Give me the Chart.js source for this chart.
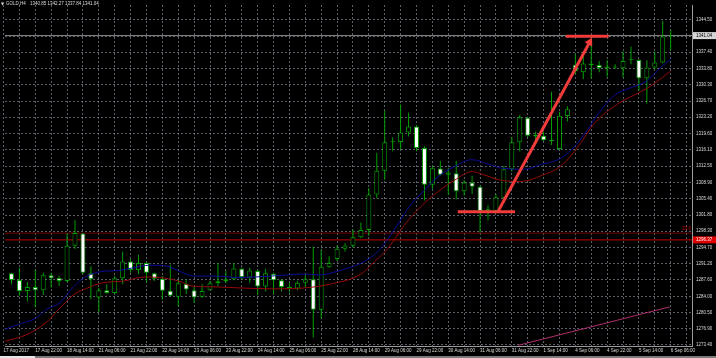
<!DOCTYPE html>
<html lang="en">
<head>
<meta charset="UTF-8">
<title>GOLD,H4</title>
<script src="https://cdn.jsdelivr.net/npm/chart.js"></script>
<style>
    html, body { margin: 0; padding: 0; background: #000; overflow: hidden; }
    #grafico { display: block; }
</style>
</head>
<body>
<canvas id="grafico" width="716" height="358"></canvas>
<script>
const symbol = 'GOLD,H4';

// H4 candles, left to right (index 0 = first full candle on screen)
const opens = [1289.05, 1287.60, 1285.17, 1286.09, 1285.38, 1288.61, 1288.03, 1287.38, 1295.08, 1297.79,
    1289.05, 1283.79, 1285.38, 1284.73, 1287.97, 1291.63, 1289.76, 1291.33, 1289.05, 1287.88,
    1285.23, 1283.94, 1286.74, 1285.38, 1283.94, 1285.38, 1287.32, 1287.32, 1287.75, 1290.08,
    1288.10, 1289.54, 1286.16, 1288.96, 1287.54, 1286.09, 1285.73, 1287.02, 1287.75, 1281.07,
    1290.47, 1292.19, 1294.43, 1295.08, 1296.93, 1298.53, 1306.29, 1311.46, 1317.71, 1317.77,
    1319.87, 1321.16, 1316.48, 1308.44, 1311.96, 1310.60, 1310.94, 1307.00, 1308.94, 1308.01,
    1302.69, 1302.69, 1305.56, 1311.80, 1317.71, 1323.10, 1319.00, 1319.13, 1317.93, 1316.27,
    1323.44, 1334.69, 1333.01, 1334.95, 1334.59, 1333.94, 1334.09, 1333.88, 1335.66, 1335.73,
    1331.72, 1334.09, 1335.17, 1340.85];
const highs = [1289.18, 1290.25, 1287.17, 1289.76, 1289.18, 1289.18, 1288.46, 1297.79, 1300.68, 1297.90,
    1290.62, 1285.88, 1286.67, 1288.46, 1293.79, 1292.19, 1293.14, 1291.48, 1289.18, 1288.46,
    1290.90, 1287.60, 1287.75, 1286.09, 1286.67, 1287.38, 1291.33, 1289.54, 1291.33, 1290.25,
    1290.25, 1289.91, 1290.04, 1289.18, 1287.75, 1287.02, 1287.38, 1288.68, 1294.93, 1294.22,
    1292.78, 1295.15, 1295.64, 1298.66, 1300.17, 1307.71, 1315.40, 1324.61, 1318.79, 1325.97,
    1324.18, 1321.50, 1316.85, 1312.54, 1313.62, 1312.17, 1313.62, 1309.48, 1310.38, 1308.20,
    1303.92, 1306.42, 1312.54, 1318.85, 1323.66, 1323.31, 1320.08, 1320.08, 1328.77, 1324.39,
    1325.60, 1336.96, 1336.59, 1340.90, 1335.51, 1335.66, 1334.80, 1337.54, 1338.62, 1335.88,
    1335.66, 1337.54, 1344.28, 1342.27];
const lows = [1286.67, 1284.15, 1282.92, 1281.63, 1284.30, 1285.94, 1286.31, 1287.17, 1294.35, 1289.00,
    1283.44, 1280.55, 1284.52, 1284.52, 1286.67, 1289.18, 1288.83, 1287.02, 1287.38, 1283.29,
    1284.00, 1281.84, 1284.52, 1282.58, 1283.66, 1285.23, 1286.31, 1286.89, 1287.54, 1287.82,
    1287.02, 1284.37, 1285.08, 1284.52, 1285.02, 1284.87, 1285.38, 1285.94, 1275.03, 1279.13,
    1290.25, 1291.70, 1293.85, 1294.71, 1296.72, 1297.30, 1305.49, 1309.52, 1315.77, 1316.12,
    1319.00, 1315.77, 1305.00, 1307.50, 1310.38, 1306.24, 1305.27, 1306.10, 1306.42, 1297.95,
    1300.68, 1302.47, 1305.34, 1311.30, 1315.77, 1318.85, 1318.27, 1317.93, 1317.13, 1316.12,
    1322.24, 1332.65, 1331.57, 1331.72, 1333.01, 1332.06, 1333.72, 1331.93, 1334.80, 1329.05,
    1326.18, 1333.72, 1335.02, 1337.84];
const closes = [1287.60, 1285.17, 1286.09, 1285.38, 1288.61, 1287.97, 1287.38, 1295.08, 1297.88, 1289.18,
    1287.75, 1285.38, 1284.73, 1287.97, 1291.63, 1289.76, 1291.33, 1289.18, 1287.88, 1285.23,
    1284.15, 1286.89, 1285.51, 1283.79, 1285.17, 1286.89, 1286.89, 1287.75, 1290.12, 1288.25,
    1289.69, 1286.16, 1289.05, 1287.54, 1286.09, 1285.73, 1287.02, 1287.75, 1281.07, 1290.47,
    1291.33, 1294.43, 1295.15, 1296.93, 1298.53, 1306.29, 1311.46, 1317.71, 1317.93, 1319.87,
    1321.16, 1316.48, 1308.44, 1312.02, 1310.60, 1311.10, 1307.00, 1308.94, 1308.01, 1302.69,
    1303.05, 1305.71, 1311.80, 1317.71, 1323.16, 1319.13, 1319.35, 1318.14, 1318.27, 1323.53,
    1324.95, 1333.29, 1334.95, 1334.59, 1333.94, 1334.22, 1334.22, 1335.51, 1335.88, 1331.72,
    1334.09, 1335.17, 1340.85, 1341.04];

// time axis labels, placed at candle index
const timeTickIdx = [-1, 3, 7, 11, 15, 19, 23, 27, 31, 35, 39, 43, 47, 51, 55, 59, 63, 67, 71, 75, 79, 83];
const timeTickLabels = ['17 Aug 2017', '17 Aug 22:00', '18 Aug 14:00', '21 Aug 06:00', '21 Aug 22:00',
    '22 Aug 14:00', '23 Aug 06:00', '23 Aug 22:00', '24 Aug 14:00', '25 Aug 06:00', '25 Aug 22:00',
    '28 Aug 14:00', '29 Aug 06:00', '29 Aug 22:00', '30 Aug 14:00', '31 Aug 06:00', '31 Aug 22:00',
    '1 Sep 14:00', '4 Sep 06:00', '4 Sep 22:00', '5 Sep 14:00', '6 Sep 06:00'];

// price axis (the tick under the bid label has no text)
const priceTicks = [1344.50, 1340.95, 1337.40, 1333.80, 1330.30, 1326.70, 1323.20, 1319.60, 1316.10,
    1312.50, 1308.90, 1305.40, 1301.80, 1298.30, 1294.70, 1291.20, 1287.60, 1284.00, 1280.50,
    1276.90, 1273.40];
const priceTickLabels = ['1344.50', '', '1337.40', '1333.80', '1330.30', '1326.70', '1323.20', '1319.60',
    '1316.10', '1312.50', '1308.90', '1305.40', '1301.80', '1298.30', '1294.70', '1291.20', '1287.60',
    '1284.00', '1280.50', '1276.90', '1273.40'];

// moving averages
const maFastIdx = [-0.8, 0.9, 3, 4.6, 6.1, 7.6, 8.9, 10.1, 11.75, 13.4, 15.1, 17.4, 19.6, 21.1, 23,
    25.9, 28.6, 32.75, 37, 38.6, 41.1, 44, 45.75, 47, 48.6, 50.25, 52, 53.6, 55.75, 58, 60.1, 62.1,
    64.6, 66.75, 68.9, 70.5, 72.1, 73.9, 75.9, 77.6, 80.1, 81.75, 83];
const maFastVal = [1276.82, 1277.90, 1279.20, 1281.35, 1282.64, 1285.66, 1287.82, 1288.89, 1289.54,
    1289.65, 1290.19, 1290.83, 1290.62, 1289.54, 1288.46, 1288.46, 1288.14, 1288.46, 1288.90, 1288.68,
    1289.54, 1291.27, 1293.21, 1295.58, 1299.67, 1303.98, 1307.21, 1310.02, 1312.39, 1313.90, 1312.88,
    1311.96, 1311.81, 1312.88, 1313.96, 1316.12, 1319.35, 1324.03, 1327.97, 1329.41, 1331.20, 1334.09,
    1335.88];
const maSlowIdx = [-0.8, 1.75, 4.25, 6.4, 8, 9.6, 11.4, 14.25, 16.75, 19.25, 21.4, 22.6, 25.5, 28.6,
    32.75, 37, 40.25, 44, 45.75, 47.4, 49.5, 51.5, 53.6, 55.75, 58, 59.25, 61.75, 64.25, 66.75, 69.25,
    71.4, 73.4, 76.4, 79.25, 80.9, 83];
const maSlowVal = [1274.24, 1275.53, 1278.12, 1282.00, 1284.58, 1285.88, 1286.96, 1287.39, 1288.25,
    1288.03, 1287.17, 1286.31, 1286.09, 1285.88, 1285.66, 1285.88, 1286.74, 1288.90, 1291.70, 1294.50,
    1299.67, 1303.55, 1306.78, 1309.37, 1311.31, 1310.73, 1309.37, 1309.16, 1310.45, 1312.60, 1316.91,
    1321.87, 1326.18, 1328.77, 1330.49, 1333.29];

// drawn objects
const bidPrice = 1341.04;
const levelPrice = 1296.37;
const fiboPrice = 1297.84;
const fiboText = '23.6';
const trendIdx = [63.8, 82.9];
const trendVal = [1273.31, 1281.72];
const arrowIdx = [61.3, 72.8];
const arrowVal = [1302.7, 1339.6];
const lowMarkIdx = [56.2, 63.4];
const lowMarkVal = 1302.5;
const highMarkIdx = [69.8, 75.2];
const highMarkVal = 1340.9;

// visible window
const xMin = -0.8125, xMax = 85.6875;
const yMin = 1273.164, yMax = 1347.733;

const verde = '#00a000';
const vermelho = '#f23c3c';
const corGrade = '#59606b';
const corEixo = '#9a9a9a';
const corTexto = '#dcdcdc';

Chart.defaults.font.family = '"Liberation Sans", Arial, sans-serif';

const pts = (xs, ys) => xs.map((x, k) => ({ x: x, y: Array.isArray(ys) ? ys[k] : ys }));
const fullWidth = (price) => [{ x: xMin, y: price }, { x: xMax, y: price }];

const gridIdx = [];
for (let i = -1; i <= 85; i += 2) gridIdx.push(i);

const mtDecor = {
    id: 'mtDecor',
    beforeDraw(chart) {
        const c = chart.ctx;
        c.save();
        c.fillStyle = '#000';
        c.fillRect(0, 0, chart.width, chart.height);
        c.restore();
    },
    afterDraw(chart) {
        const c = chart.ctx;
        const ys = chart.scales.y;
        const area = chart.chartArea;
        const n = opens.length - 1;
        c.save();
        c.textBaseline = 'middle';

        // header
        c.fillStyle = corTexto;
        c.font = '4px "DejaVu Sans", sans-serif';
        c.fillText('\u25BC', 1, 3.5);
        c.font = '4.5px "Liberation Sans", Arial, sans-serif';
        c.fillText(symbol, 6, 3.5);
        c.fillText([opens[n], highs[n], lows[n], closes[n]].map(v => v.toFixed(2)).join(' '), 30, 3.5);

        // fibo level text
        c.fillStyle = '#c00000';
        c.textAlign = 'right';
        c.fillText(fiboText, area.right - 1, ys.getPixelForValue(fiboPrice) - 4);
        c.textAlign = 'left';

        // price tags on the axis
        const tag = (price, bg, fg) => {
            const py = ys.getPixelForValue(price);
            c.fillStyle = bg;
            c.fillRect(area.right + 1, py - 3.5, chart.width - area.right - 1, 7);
            c.fillStyle = fg;
            c.fillText(price.toFixed(2), area.right + 4, py);
        };
        tag(bidPrice, '#d6d6d6', '#000');
        tag(levelPrice, '#e00000', '#fff');

        // tab strip under the chart
        c.fillStyle = '#7a7a7a';
        c.fillRect(0, chart.height - 2, chart.width, 2);
        c.fillStyle = '#e6e6e6';
        c.fillRect(0, chart.height - 2, 35, 2);
        c.restore();
    }
};

new Chart(document.getElementById('grafico'), {
    type: 'bar',
    data: {
        datasets: [
            {
                type: 'line', data: pts(arrowIdx, arrowVal), borderColor: vermelho, borderWidth: 3,
                pointRadius: [0, 5], pointStyle: 'triangle', pointRotation: 29,
                pointBackgroundColor: vermelho, pointBorderColor: vermelho, pointBorderWidth: 0, order: 0
            },
            { type: 'line', data: pts(lowMarkIdx, lowMarkVal), borderColor: vermelho, borderWidth: 3, pointRadius: 0, order: 0 },
            { type: 'line', data: pts(highMarkIdx, highMarkVal), borderColor: vermelho, borderWidth: 3, pointRadius: 0, order: 0 },
            {
                type: 'line', data: pts(maFastIdx, maFastVal), borderColor: '#0c0c9a', borderWidth: 1,
                pointRadius: 0, cubicInterpolationMode: 'monotone', order: 1
            },
            {
                type: 'line', data: pts(maSlowIdx, maSlowVal), borderColor: '#960808', borderWidth: 1,
                pointRadius: 0, cubicInterpolationMode: 'monotone', order: 1
            },
            { type: 'line', data: pts(trendIdx, trendVal), borderColor: '#b03070', borderWidth: 1, pointRadius: 0, order: 2 },
            {
                type: 'bar',
                data: opens.map((o, i) => ({ x: i, y: [o, closes[i]] })),
                backgroundColor: opens.map((o, i) => closes[i] >= o ? '#000' : '#fff'),
                borderColor: verde, borderWidth: 1, borderSkipped: false,
                barThickness: 5, minBarLength: 1, grouped: false, inflateAmount: 0, order: 3
            },
            {
                type: 'bar',
                data: lows.map((l, i) => ({ x: i, y: [l, highs[i]] })),
                backgroundColor: verde, borderWidth: 0,
                barThickness: 1, grouped: false, inflateAmount: 0, order: 4
            },
            { type: 'line', data: fullWidth(fiboPrice), borderColor: '#7a0000', borderWidth: 1, pointRadius: 0, order: 5 },
            { type: 'line', data: fullWidth(levelPrice), borderColor: '#c40000', borderWidth: 1, pointRadius: 0, order: 5 },
            { type: 'line', data: fullWidth(bidPrice), borderColor: '#8c8c8c', borderWidth: 1, pointRadius: 0, order: 5 }
        ]
    },
    options: {
        responsive: false,
        animation: false,
        devicePixelRatio: 1,
        events: [],
        layout: { padding: 0 },
        plugins: { legend: { display: false }, tooltip: { enabled: false }, title: { display: false } },
        scales: {
            x: {
                type: 'linear', min: xMin, max: xMax, offset: false,
                afterBuildTicks: s => { s.ticks = gridIdx.map(v => ({ value: v })); },
                afterFit: s => { s.height = 12; s.paddingLeft = 0; s.paddingRight = 0; },
                grid: { color: corGrade, drawTicks: false, offset: false },
                border: { color: corEixo, dash: [2, 2] },
                ticks: {
                    color: corTexto, font: { size: 4.5 }, padding: 2, autoSkip: false,
                    maxRotation: 0, minRotation: 0, align: 'start',
                    callback: v => {
                        const k = timeTickIdx.indexOf(v);
                        return k >= 0 ? timeTickLabels[k] : '';
                    }
                }
            },
            y: {
                type: 'linear', position: 'right', min: yMin, max: yMax,
                afterBuildTicks: s => { s.ticks = priceTicks.map(v => ({ value: v })); },
                afterFit: s => { s.width = 24; s.paddingTop = 0; s.paddingBottom = 0; },
                grid: { color: corGrade, drawTicks: false },
                border: { color: corEixo, dash: [2, 2] },
                ticks: {
                    color: corTexto, font: { size: 4.5 }, padding: 4, autoSkip: false,
                    callback: (v, i) => priceTickLabels[i]
                }
            }
        }
    },
    plugins: [mtDecor]
});
</script>
</body>
</html>
